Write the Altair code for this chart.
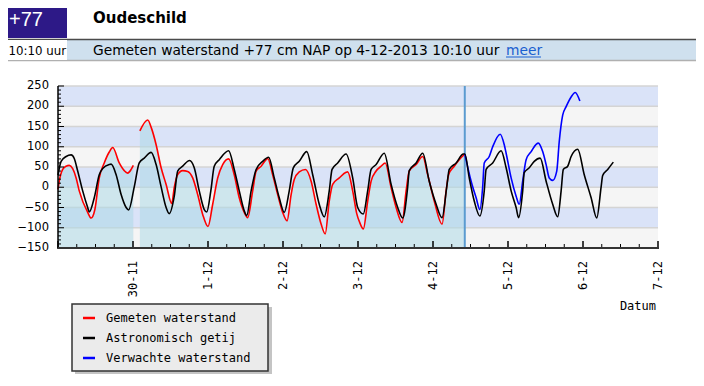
import altair as alt
import pandas as pd

BASE = pd.Timestamp("2013-11-29 00:00")
END = pd.Timestamp("2013-12-07 00:00")
NOW_HOURS = 130.17  # 4-12-2013 10:10

# (hours since 29-11-2013 00:00, cm NAP)
measured_part1 = [(0, -5), (0.4, 15), (1.5, 44), (2.6, 52), (3.6, 54), (4.7, 46), (5.8, 23),
                  (6.8, -9), (9.5, -62), (10.6, -76), (11.8, -55), (13.2, 23), (14.8, 60),
                  (16.4, 87), (17.5, 98), (19.6, 60), (21.2, 41), (22.3, 35), (23.4, 44), (24.1, 54)]
measured_part2 = [(26.2, 139), (28.7, 166), (29.9, 146), (31.4, 105), (33, 48), (34.6, 7), (36.4, -40),
                  (37.2, -1), (38.3, 31), (39.9, 41), (41.5, 39), (43.1, 23), (44.7, -18), (46.3, -67),
                  (48.0, -97), (49.5, -42), (51.1, 23), (52.7, 56), (54.6, 70), (56.4, 31), (58, -26),
                  (59.6, -62), (60.7, -75), (62.3, -9), (63.4, 40), (65, 52), (66.6, 68), (67.1, 71),
                  (68.7, 31), (70.3, -18), (71.9, -62), (73.3, -83), (74.6, -18), (75.6, 19), (77.2, 38),
                  (79.2, 44), (81, 15), (82.6, -42), (84.2, -91), (85.5, -115), (86.8, -34), (87.9, 7),
                  (90, 23), (92.2, 37), (92.7, 38), (94.3, -9), (95.6, -65), (96.6, -88), (97.7, -103),
                  (99.1, -34), (100.2, 15), (101.8, 40), (103.4, 52), (104.7, 60), (106.6, -1),
                  (108.2, -50), (110.1, -87), (111.4, -9), (112.4, 40), (114.6, 56), (116.7, 76),
                  (118.3, 31), (120.4, -34), (122.9, -91), (124.2, -9), (125, 31), (126.8, 52),
                  (128.4, 68), (130.17, 82)]
astronomical = [(0, 30), (1, 64), (2.6, 76), (4.2, 80), (5.2, 71), (6.3, 40), (7.9, -9), (9.5, -50),
                (10, -61), (11.6, -26), (13.2, 31), (14.3, 46), (16.4, 56), (17, 57), (18.6, 31),
                (20.2, -18), (21.8, -50), (22.6, -56), (24.4, 1), (26, 60), (27.6, 72), (29.8, 86),
                (31.4, 56), (33, 1), (34.6, -50), (35.6, -65), (37.2, -22), (38.3, 40), (39.9, 52),
                (42.1, 66), (43.6, 48), (45.2, -9), (46.8, -55), (47.6, -61), (48.9, -9), (50, 52),
                (51.6, 68), (54.6, 90), (56.4, 44), (58, -9), (59.6, -58), (60.4, -70), (61.8, -9),
                (63.4, 44), (65.5, 64), (67.4, 74), (69.2, 23), (70.8, -26), (72.4, -62), (74, -9),
                (75.3, 48), (77.2, 64), (79.6, 88), (81.5, 31), (83.6, -42), (85.2, -73), (86.8, -9),
                (87.7, 44), (89.5, 60), (92.2, 82), (94.3, 23), (95.9, -50), (97.7, -66), (99.1, -9),
                (100.2, 44), (101.8, 56), (104.4, 84), (106.6, 7), (108.7, -50), (110.3, -76),
                (111.9, 1), (112.4, 41), (114.6, 60), (116.7, 84), (118.8, 15), (121, -42),
                (122.9, -75), (124.4, 1), (125.2, 44), (127.4, 60), (129.7, 82), (130.2, 82),
                (131.6, 23), (133.2, -34), (135, -71), (136.4, -9), (137, 44), (139.1, 60),
                (141.8, 90), (143.4, 48), (145, -9), (146.6, -50), (147.4, -75), (148.7, -9),
                (149.2, 36), (150.8, 48), (152.4, 64), (154.3, 72), (156.2, 15), (158.3, -42),
                (159.9, -73), (161, -9), (161.7, 44), (163.1, 52), (164.2, 76), (166.3, 94),
                (168.4, 31), (170.6, -26), (172.4, -76), (173.8, 1), (174.3, 29), (175.9, 44),
                (177.7, 62)]
forecast = [(130.17, 82), (132.2, 15), (133.8, -26), (135, -55), (135.9, 1), (136.4, 60), (138, 76),
            (139.1, 100), (141.5, 131), (142.8, 105), (143.4, 84), (145, 23), (146.6, -22),
            (147.6, -42), (148.7, 15), (149.8, 68), (151.4, 88), (153, 106), (153.7, 109),
            (155.1, 88), (156.2, 56), (157.2, 23), (158.3, 17), (159.6, 40), (160.4, 113),
            (161.5, 178), (162.6, 199), (164.2, 223), (165.5, 234), (167, 213)]

Y_LABELS = [-150, -100, -50, 0, 50, 100, 150, 200, 250]
DAY_LABELS = ["30-11", "1-12", "2-12", "3-12", "4-12", "5-12", "6-12", "7-12"]
DAY_DATES = ["2013-11-30", "2013-12-01", "2013-12-02", "2013-12-03",
             "2013-12-04", "2013-12-05", "2013-12-06", "2013-12-07"]
BAND_LOWS = [-150, -100, -50, 0, 50, 100, 150, 200]
BAND_COLORS = ["#f5f5f5", "#dae3f8", "#f5f5f5", "#dae3f8", "#f5f5f5", "#dae3f8", "#f5f5f5", "#dae3f8"]
LEGEND_NAMES = ["Gemeten waterstand", "Astronomisch getij", "Verwachte waterstand"]
LEGEND_COLORS = ["#ff0000", "#000000", "#0000ff"]

W, H = 600, 162


def frame(pairs, seg):
    return pd.DataFrame({
        "time": [BASE + pd.Timedelta(hours=h) for h, _ in pairs],
        "value": [v for _, v in pairs],
        "seg": seg,
    })


meas = pd.concat([frame(measured_part1, "a"), frame(measured_part2, "b")], ignore_index=True)
astro = frame(astronomical, "a")
fcst = frame(forecast, "a")

xscale = alt.Scale(domain=[alt.DateTime(year=2013, month=11, date=29),
                           alt.DateTime(year=2013, month=12, date=7)])
yscale = alt.Scale(domain=[-150, 250], nice=False, zero=False)


def X(field):
    return alt.X(field, scale=xscale, axis=None)


def Y(field, **kw):
    return alt.Y(field, scale=yscale, axis=None, **kw)


bands = alt.Chart(pd.DataFrame({"lo": BAND_LOWS, "hi": [b + 50 for b in BAND_LOWS], "c": BAND_COLORS})).mark_rect().encode(
    y=Y("lo:Q"), y2="hi:Q",
    x=alt.value(0), x2=alt.value(W),
    color=alt.Color("c:N", scale=None),
)

grid = alt.Chart(pd.DataFrame({"v": Y_LABELS[1:]})).mark_rule(color="#d4d4d4", strokeWidth=1.5).encode(
    y=Y("v:Q"), x=alt.value(0), x2=alt.value(W))

area = alt.Chart(meas).mark_area(color="lightblue", opacity=0.55).encode(
    x=X("time:T"),
    y=Y("value:Q", stack=None),
    y2=alt.datum(-150),
    detail="seg:N",
)

now_line = alt.Chart(pd.DataFrame({"t": [BASE + pd.Timedelta(hours=NOW_HOURS)]})).mark_rule(
    color="#5b9bd0", strokeWidth=2).encode(x=X("t:T"), y=alt.value(0), y2=alt.value(H))


def line(df, color):
    return alt.Chart(df).mark_line(color=color, strokeWidth=1.6, interpolate="monotone").encode(
        x=X("time:T"), y=Y("value:Q"), detail="seg:N")


red = line(meas, "#ff0000")
blue = line(fcst, "#0000ff")
black = line(astro, "#000000")

# axis lines, ticks and labels
ytick_vals = list(range(-150, 251, 10))
yticks_major = alt.Chart(pd.DataFrame({"v": Y_LABELS})).mark_rule(color="#000").encode(
    y=Y("v:Q"), x=alt.value(0), x2=alt.value(6))
yticks_minor = alt.Chart(pd.DataFrame({"v": [v for v in ytick_vals if v % 50]})).mark_rule(color="#000").encode(
    y=Y("v:Q"), x=alt.value(0), x2=alt.value(3))
ylabels = alt.Chart(pd.DataFrame({"v": Y_LABELS, "lab": [str(v).replace("-", "\u2212") for v in Y_LABELS]})).mark_text(
    align="right", baseline="middle", font="DejaVu Sans", fontSize=11.5, color="#000").encode(
    y=Y("v:Q"), x=alt.value(-9), text="lab:N")

tick_times = pd.date_range(BASE, END, freq="6h")
xticks_major = alt.Chart(pd.DataFrame({"t": [t for t in tick_times if t.hour == 0]})).mark_rule(
    color="#000", strokeWidth=1.5).encode(x=X("t:T"), y=alt.value(H - 7), y2=alt.value(H))
xticks_minor = alt.Chart(pd.DataFrame({"t": [t for t in tick_times if t.hour != 0]})).mark_rule(
    color="#000", strokeWidth=1).encode(x=X("t:T"), y=alt.value(H - 4), y2=alt.value(H))
xlabels = alt.Chart(pd.DataFrame({"t": pd.to_datetime(DAY_DATES), "lab": DAY_LABELS})).mark_text(
    align="right", baseline="middle", angle=270, font="DejaVu Sans Mono", fontSize=12, color="#000").encode(
    x=X("t:T"), y=alt.value(H + 13), text="lab:N")

one = pd.DataFrame({"k": [0]})
yaxis_line = alt.Chart(one).mark_rule(color="#000", strokeWidth=1.5).encode(
    x=alt.value(0), y=alt.value(0), y2=alt.value(H + 1))
xaxis_line = alt.Chart(one).mark_rule(color="#333", strokeWidth=2).encode(
    x=alt.value(0), x2=alt.value(W + 1), y=alt.value(H))

OX, OY = 58, 86  # plot origin on the page


def box(x1, x2, y1, y2, **kw):
    return alt.Chart(one).mark_rect(**kw).encode(
        x=alt.value(x1 - OX), x2=alt.value(x2 - OX), y=alt.value(y1 - OY), y2=alt.value(y2 - OY))


def hline(x1, x2, y, color, w):
    return alt.Chart(one).mark_rule(color=color, strokeWidth=w).encode(
        x=alt.value(x1 - OX), x2=alt.value(x2 - OX), y=alt.value(y - OY))


def txt(s, x, y, **kw):
    return alt.Chart(one).mark_text(text=s, **kw).encode(x=alt.value(x - OX), y=alt.value(y - OY))


header = [
    box(0, 67, 0, 38, color="#2d1987"),
    txt("+77", 9, 20, color="white", font="Liberation Sans", fontSize=20, align="left", baseline="middle"),
    txt("Oudeschild", 93, 23, color="#000", font="DejaVu Sans", fontSize=15, fontWeight="bold",
        align="left", baseline="alphabetic"),
    box(0, 704, 40, 60, color="#cfe0ee"),
    hline(0, 704, 39.5, "#4a4a4a", 1.5),
    hline(0, 704, 60.5, "#b0b0b0", 1.5),
    box(0, 67, 40, 60, color="#ffffff"),
    txt("10:10 uur", 66, 55, color="#000", font="DejaVu Sans", fontSize=11.8, align="right",
        baseline="alphabetic"),
    txt("Gemeten waterstand +77 cm NAP op 4-12-2013 10:10 uur", 93, 55, color="#000",
        font="DejaVu Sans", fontSize=13.8, align="left", baseline="alphabetic"),
    txt("meer", 506, 55, color="#1a5fd0", font="DejaVu Sans", fontSize=13.8, align="left",
        baseline="alphabetic"),
    hline(506, 541, 57, "#1a5fd0", 1),
]

legend = [
    box(75, 272, 307, 374, color="#c4c4c4"),
    box(72, 268, 304, 371, color="#ebebeb", stroke="#333333", strokeWidth=1.5),
]
for i, (name, col) in enumerate(zip(LEGEND_NAMES, LEGEND_COLORS)):
    yy = 318 + 20 * i
    legend.append(hline(83, 95, yy, col, 2.5))
    legend.append(txt(name, 106, yy, color="#000", font="DejaVu Sans Mono", fontSize=12,
                      align="left", baseline="middle"))
legend.append(txt("Datum", 656, 306, color="#000", font="DejaVu Sans Mono", fontSize=12,
                  align="right", baseline="middle"))

chart = alt.layer(
    bands, grid, area, now_line, red, blue, black,
    yticks_major, yticks_minor, xticks_major, xticks_minor,
    yaxis_line, xaxis_line, ylabels, xlabels,
    *header, *legend,
).properties(
    width=W, height=H,
    autosize=alt.AutoSizeParams(type="none"),
    padding={"left": 50, "top": 78, "right": 38, "bottom": 130},
).configure_view(stroke=None)

chart.save("out.html", embed_options={"renderer": "svg", "actions": False})
